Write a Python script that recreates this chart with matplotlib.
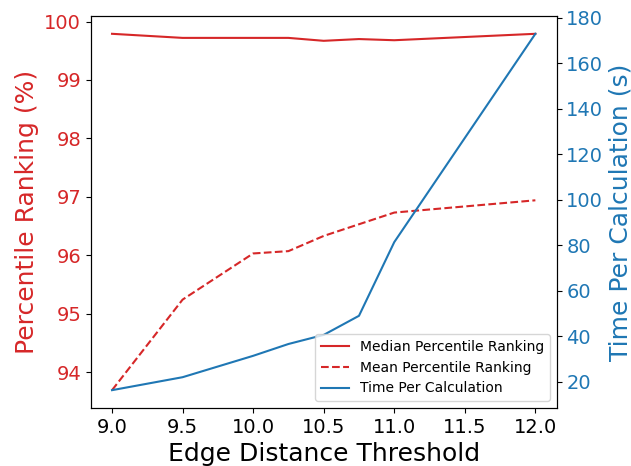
import numpy as np
import matplotlib.pyplot as plt

thresholds = [9.0, 9.5, 10.0, 10.25, 10.5, 10.75, 11.0, 12.0]
median_rank = [99.79, 99.72, 99.72, 99.72, 99.67, 99.70, 99.68, 99.79]
mean_rank = [93.69, 95.24, 96.03, 96.07, 96.33, 96.53, 96.73, 96.94]
time_per_calc = [16.3, 22.0, 31.4, 36.6, 40.6, 49.0, 81.4, 173.0]

fig, ax1 = plt.subplots(figsize=(6.31, 4.66), dpi=100)
fig.subplots_adjust(left=0.144, right=0.882, bottom=0.1245, top=0.9657)

red = 'tab:red'
blue = 'tab:blue'

l1, = ax1.plot(thresholds, median_rank, color=red, label='Median Percentile Ranking')
l2, = ax1.plot(thresholds, mean_rank, color=red, linestyle='--', label='Mean Percentile Ranking')
ax1.set_xlabel('Edge Distance Threshold', fontsize=18)
ax1.set_ylabel('Percentile Ranking (%)', color=red, fontsize=18)
ax1.tick_params(axis='y', labelcolor=red, labelsize=14)
ax1.tick_params(axis='x', labelsize=14)

ax2 = ax1.twinx()
l3, = ax2.plot(thresholds, time_per_calc, color=blue, label='Time Per Calculation')
ax2.set_ylabel('Time Per Calculation (s)', color=blue, fontsize=18)
ax2.tick_params(axis='y', labelcolor=blue, labelsize=14)

lines = [l1, l2, l3]
ax2.legend(lines, [l.get_label() for l in lines], loc='lower right', fontsize=10)

plt.savefig('out.png', dpi=100)
